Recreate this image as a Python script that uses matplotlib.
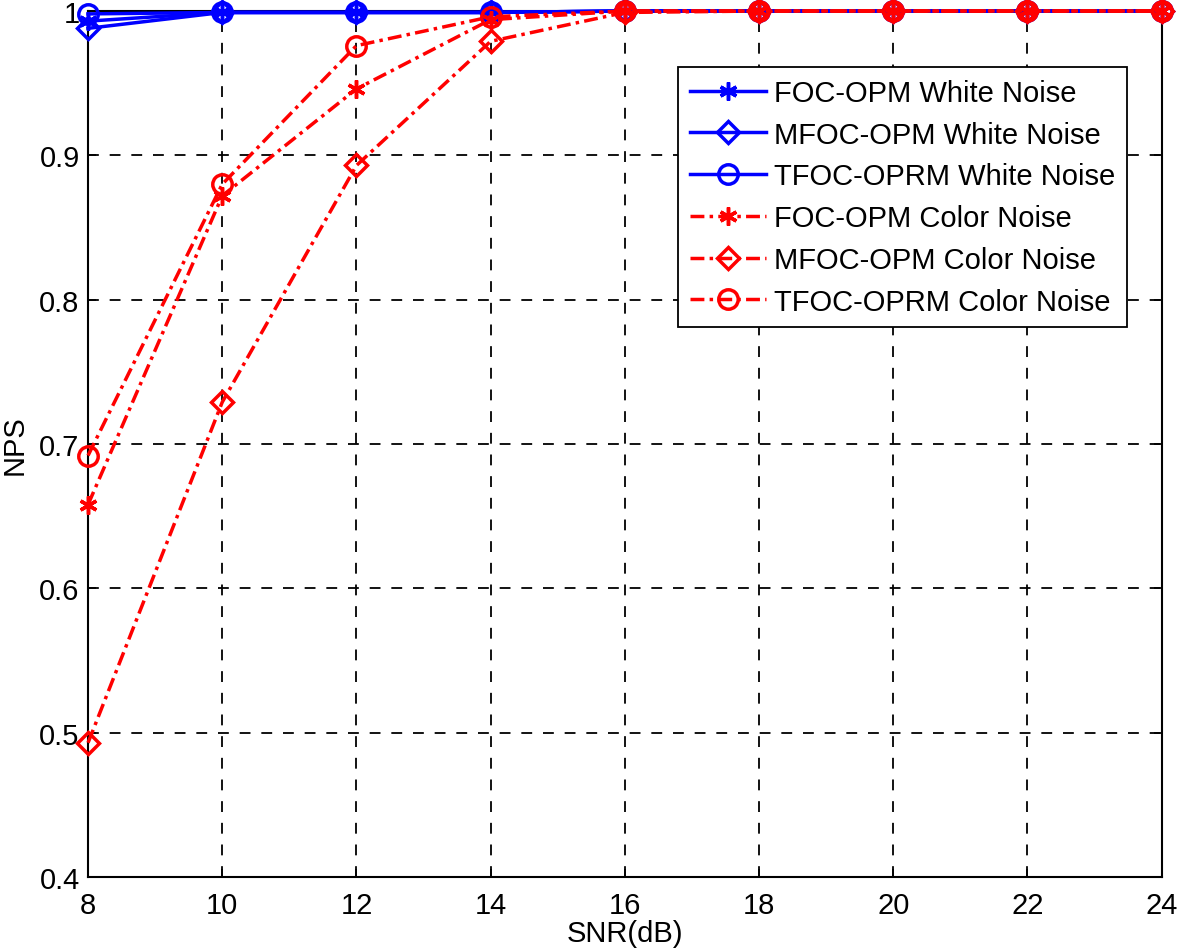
import numpy as np
import matplotlib
matplotlib.use("Agg")
import matplotlib.pyplot as plt

plt.rcParams['font.family'] = ['Liberation Sans', 'DejaVu Sans']

snr = [8, 10, 12, 14, 16, 18, 20, 22, 24]

# white noise
foc_white = [0.993, 0.999, 0.999, 0.999, 1.0, 1.0, 1.0, 1.0, 1.0]
mfoc_white = [0.988, 0.999, 0.999, 0.999, 1.0, 1.0, 1.0, 1.0, 1.0]
tfoc_white = [0.998, 0.999, 0.999, 0.999, 1.0, 1.0, 1.0, 1.0, 1.0]

# color noise
foc_color = [0.658, 0.872, 0.946, 0.994, 1.0, 1.0, 1.0, 1.0, 1.0]
mfoc_color = [0.493, 0.729, 0.893, 0.979, 0.999, 1.0, 1.0, 1.0, 1.0]
tfoc_color = [0.692, 0.880, 0.976, 0.996, 1.0, 1.0, 1.0, 1.0, 1.0]

fig = plt.figure(figsize=(11.77, 9.53), dpi=100)
ax = fig.add_axes([0.0748, 0.0787, 0.9122, 0.9087])

dashdot = (0, (4, 1.5, 1, 1.5))
kw = dict(linewidth=2.5, markeredgewidth=2.5,
          markerfacecolor='none', clip_on=False, zorder=3)

ax.plot(snr, foc_white, '-', color='blue', marker=(6, 2, 0), markersize=13, label='FOC-OPM White Noise', **kw)
ax.plot(snr, mfoc_white, '-', color='blue', marker='D', markersize=11, label='MFOC-OPM White Noise', **kw)
ax.plot(snr, tfoc_white, '-', color='blue', marker='o', markersize=14, label='TFOC-OPRM White Noise', **kw)
ax.plot(snr, foc_color, linestyle=dashdot, color='red', marker=(6, 2, 0), markersize=13, label='FOC-OPM Color Noise', **kw)
ax.plot(snr, mfoc_color, linestyle=dashdot, color='red', marker='D', markersize=11, label='MFOC-OPM Color Noise', **kw)
ax.plot(snr, tfoc_color, linestyle=dashdot, color='red', marker='o', markersize=14, label='TFOC-OPRM Color Noise', **kw)

ax.set_xlim(8, 24)
ax.set_ylim(0.4, 1.0)
ax.set_xticks(snr)
ax.set_yticks([0.4, 0.5, 0.6, 0.7, 0.8, 0.9, 1.0])
ax.set_yticklabels(['0.4', '0.5', '0.6', '0.7', '0.8', '0.9', '1'])
ax.tick_params(direction='in', labelsize=21, length=6, width=1.2, top=True, right=True)
ax.tick_params(axis='x', pad=10)
ax.tick_params(axis='y', pad=6)
ax.grid(True, color='black', linestyle=(0, (6, 6)), linewidth=1.3)
for s in ax.spines.values():
    s.set_linewidth(1.5)

ax.set_xlabel('SNR(dB)', fontsize=21, labelpad=0)
ax.set_ylabel('NPS', fontsize=21, labelpad=8)

leg = ax.legend(loc='upper right', bbox_to_anchor=(0.968, 0.935), fontsize=21,
                fancybox=False, framealpha=1, edgecolor='black', handlelength=2.6,
                borderpad=0.4, labelspacing=0.47, handletextpad=0.3, borderaxespad=0)
leg.get_frame().set_linewidth(1.3)

fig.savefig('out.png', dpi=100)
